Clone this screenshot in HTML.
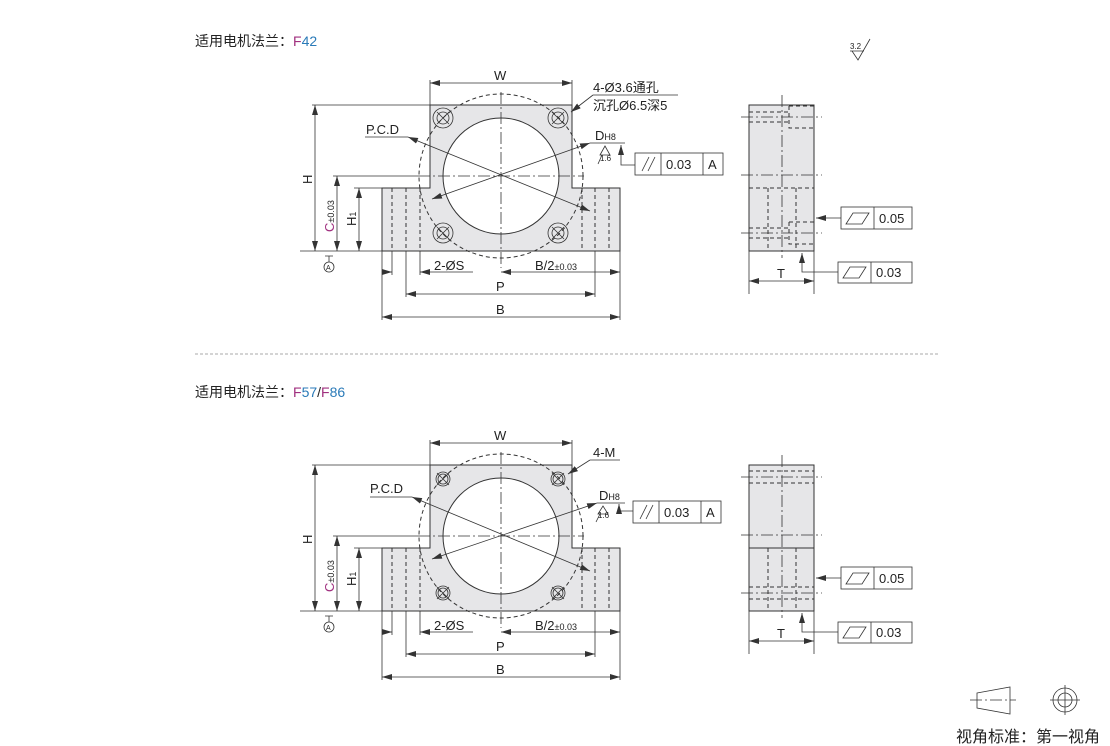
<!DOCTYPE html>
<html><head><meta charset="utf-8"><style>
html,body{margin:0;padding:0;background:#fff;width:1110px;height:746px;overflow:hidden}
svg{display:block}
text{font-family:"Liberation Sans","Noto Sans CJK SC",sans-serif;fill:#222}
.o{stroke:#333;stroke-width:1;fill:none}
.t{stroke:#333;stroke-width:0.8;fill:none}
.d{stroke:#333;stroke-width:1;fill:none;stroke-dasharray:4,3}
.c{stroke:#333;stroke-width:0.8;fill:none;stroke-dasharray:12,3,2,3}
.g{fill:#e6e6e8 !important}
.w{fill:#fff !important}
</style></head><body>
<svg width="1110" height="746" viewBox="0 0 1110 746">
<defs>
<marker id="a" viewBox="0 0 10 6" refX="10" refY="3" markerWidth="10" markerHeight="6" orient="auto-start-reverse" markerUnits="userSpaceOnUse"><path d="M0,0 L10,3 L0,6 z" fill="#333"/></marker>
</defs>

<text x="195" y="46" font-size="14">适用电机法兰：<tspan fill="#a0307f">F</tspan><tspan fill="#2a7ab8">42</tspan></text>
<text x="195" y="397" font-size="14">适用电机法兰：<tspan fill="#a0307f">F</tspan><tspan fill="#2a7ab8">57</tspan>/<tspan fill="#a0307f">F</tspan><tspan fill="#2a7ab8">86</tspan></text>
<line x1="195" y1="354" x2="940" y2="354" stroke="#aaa" stroke-dasharray="3,2"/>

<text x="850" y="49" font-size="8">3.2</text>
<path d="M850,51 L864,51 M852,51 L858,60 L870,39" class="t"/>

<!-- ============ DRAWING 1 ============ -->
<g>
<path d="M430,105 L572,105 L572,188 L620,188 L620,251 L382,251 L382,188 L430,188 Z" class="o g"/>
<circle cx="501" cy="176" r="58" class="o w"/>
<circle cx="501" cy="176" r="82" class="d" stroke-dasharray="10,4"/>
<g class="d">
<line x1="392" y1="188" x2="392" y2="251"/><line x1="406" y1="188" x2="406" y2="251"/><line x1="420" y1="188" x2="420" y2="251"/>
<line x1="582" y1="188" x2="582" y2="251"/><line x1="595" y1="188" x2="595" y2="251"/><line x1="609" y1="188" x2="609" y2="251"/>
</g>
<line x1="501" y1="92" x2="501" y2="268" class="c"/>
<line x1="418" y1="176" x2="584" y2="176" class="c"/>
<g class="t">
<circle cx="443" cy="118" r="10"/><circle cx="443" cy="118" r="6"/><path d="M437,112 L449,124 M449,112 L437,124"/>
<circle cx="558" cy="118" r="10"/><circle cx="558" cy="118" r="6"/><path d="M552,112 L564,124 M564,112 L552,124"/>
<circle cx="443" cy="233" r="10"/><circle cx="443" cy="233" r="6"/><path d="M437,227 L449,239 M449,227 L437,239"/>
<circle cx="558" cy="233" r="10"/><circle cx="558" cy="233" r="6"/><path d="M552,227 L564,239 M564,227 L552,239"/>
</g>
<line x1="365" y1="137" x2="408" y2="137" class="t"/>
<line x1="408" y1="137" x2="590" y2="211" class="t" marker-start="url(#a)" marker-end="url(#a)"/>
<line x1="432" y1="199" x2="590" y2="143" class="t" marker-start="url(#a)" marker-end="url(#a)"/>
<line x1="590" y1="143" x2="625" y2="143" class="t"/>
<text x="366" y="134" font-size="13">P.C.D</text>
<text x="595" y="140" font-size="13">D<tspan font-size="9">H8</tspan></text>
<path d="M600,155 L605,146 L610,155 Z M602,155 L598,164" class="t"/>
<text x="600" y="161" font-size="8">1.6</text>
<path d="M621,145 L621,165 L635,165" class="t" marker-start="url(#a)"/>
<rect x="635" y="153" width="88" height="22" class="t"/>
<line x1="661" y1="153" x2="661" y2="175" class="t"/><line x1="703" y1="153" x2="703" y2="175" class="t"/>
<path d="M642,171 L649,157 M648,171 L655,157" class="t"/>
<text x="666" y="169" font-size="13">0.03</text><text x="708" y="169" font-size="13">A</text>
<text x="593" y="92" font-size="13">4-Ø3.6通孔</text>
<text x="593" y="110" font-size="13">沉孔Ø6.5深5</text>
<line x1="593" y1="95" x2="678" y2="95" class="t"/>
<line x1="593" y1="95" x2="571" y2="112" class="t" marker-end="url(#a)"/>
<line x1="430" y1="80" x2="430" y2="105" class="t"/><line x1="572" y1="80" x2="572" y2="105" class="t"/>
<line x1="430" y1="83" x2="572" y2="83" class="t" marker-start="url(#a)" marker-end="url(#a)"/>
<text x="494" y="80" font-size="13">W</text>
<line x1="312" y1="105" x2="430" y2="105" class="t"/>
<line x1="333" y1="176" x2="418" y2="176" class="t"/>
<line x1="354" y1="188" x2="382" y2="188" class="t"/>
<line x1="300" y1="251" x2="382" y2="251" class="t"/>
<line x1="315" y1="105" x2="315" y2="251" class="t" marker-start="url(#a)" marker-end="url(#a)"/>
<line x1="337" y1="176" x2="337" y2="251" class="t" marker-start="url(#a)" marker-end="url(#a)"/>
<line x1="359" y1="188" x2="359" y2="251" class="t" marker-start="url(#a)" marker-end="url(#a)"/>
<text transform="translate(312,184) rotate(-90)" font-size="13">H</text>
<text transform="translate(334,232) rotate(-90)" font-size="13"><tspan fill="#a0307f">C</tspan><tspan font-size="9">±0.03</tspan></text>
<text transform="translate(356,226) rotate(-90)" font-size="13">H<tspan font-size="9">1</tspan></text>
<path d="M325,256 L333,256 M329,256 L329,262" class="t"/><circle cx="329" cy="267" r="5" class="t"/>
<text x="326" y="270" font-size="7">A</text>
<g class="t">
<line x1="382" y1="251" x2="382" y2="320"/><line x1="620" y1="251" x2="620" y2="320"/>
<line x1="392" y1="251" x2="392" y2="275"/><line x1="406" y1="251" x2="406" y2="297"/>
<line x1="420" y1="251" x2="420" y2="275"/><line x1="595" y1="251" x2="595" y2="297"/>
</g>
<line x1="382" y1="272" x2="392" y2="272" class="t" marker-end="url(#a)"/>
<line x1="420" y1="272" x2="473" y2="272" class="t" marker-start="url(#a)"/>
<line x1="501" y1="272" x2="620" y2="272" class="t" marker-start="url(#a)" marker-end="url(#a)"/>
<text x="434" y="270" font-size="13">2-ØS</text>
<text x="535" y="270" font-size="13">B/2<tspan font-size="9">±0.03</tspan></text>
<line x1="406" y1="294" x2="595" y2="294" class="t" marker-start="url(#a)" marker-end="url(#a)"/>
<text x="496" y="291" font-size="13">P</text>
<line x1="382" y1="317" x2="620" y2="317" class="t" marker-start="url(#a)" marker-end="url(#a)"/>
<text x="496" y="314" font-size="13">B</text>
</g>

<g>
<rect x="749" y="105" width="65" height="146" class="o g"/>
<line x1="782" y1="95" x2="782" y2="258" class="c"/>
<line x1="741" y1="117" x2="822" y2="117" class="c"/>
<line x1="741" y1="175" x2="822" y2="175" class="c"/>
<line x1="741" y1="233" x2="822" y2="233" class="c"/>
<g class="d">
<path d="M749,112 L789,112 M749,122 L789,122 M789,106 L789,128 L814,128 M789,106 L814,106"/>
<path d="M749,188 L814,188 M768,188 L768,251 M796,188 L796,251"/>
<path d="M749,228 L789,228 M749,238 L789,238 M789,222 L789,244 L814,244 M789,222 L814,222"/>
</g>
<line x1="841" y1="218" x2="816" y2="218" class="t" marker-end="url(#a)"/>
<rect x="841" y="207" width="71" height="22" class="t"/><line x1="874" y1="207" x2="874" y2="229" class="t"/>
<path d="M846,224 L853,213 L869,213 L862,224 Z" class="t"/>
<text x="879" y="223" font-size="13">0.05</text>
<path d="M838,272 L802,272 L802,253" class="t" marker-end="url(#a)"/>
<rect x="838" y="262" width="74" height="21" class="t"/><line x1="871" y1="262" x2="871" y2="283" class="t"/>
<path d="M843,278 L850,267 L866,267 L859,278 Z" class="t"/>
<text x="876" y="277" font-size="13">0.03</text>
<line x1="749" y1="251" x2="749" y2="294" class="t"/><line x1="814" y1="251" x2="814" y2="294" class="t"/>
<line x1="749" y1="281" x2="814" y2="281" class="t" marker-start="url(#a)" marker-end="url(#a)"/>
<text x="777" y="278" font-size="13">T</text>
</g>

<!-- ============ DRAWING 2 ============ -->
<g transform="translate(0,360)">
<path d="M430,105 L572,105 L572,188 L620,188 L620,251 L382,251 L382,188 L430,188 Z" class="o g"/>
<circle cx="501" cy="176" r="58" class="o w"/>
<circle cx="501" cy="176" r="82" class="d" stroke-dasharray="10,4"/>
<g class="d">
<line x1="392" y1="188" x2="392" y2="251"/><line x1="406" y1="188" x2="406" y2="251"/><line x1="420" y1="188" x2="420" y2="251"/>
<line x1="582" y1="188" x2="582" y2="251"/><line x1="595" y1="188" x2="595" y2="251"/><line x1="609" y1="188" x2="609" y2="251"/>
</g>
<line x1="501" y1="92" x2="501" y2="268" class="c"/>
<line x1="418" y1="176" x2="584" y2="176" class="c"/>
<g class="t">
<circle cx="443" cy="119" r="7"/><circle cx="443" cy="119" r="5"/><path d="M437,113 L449,125 M449,113 L437,125"/>
<circle cx="558" cy="119" r="7"/><circle cx="558" cy="119" r="5"/><path d="M552,113 L564,125 M564,113 L552,125"/>
<circle cx="443" cy="233" r="7"/><circle cx="443" cy="233" r="5"/><path d="M437,227 L449,239 M449,227 L437,239"/>
<circle cx="558" cy="233" r="7"/><circle cx="558" cy="233" r="5"/><path d="M552,227 L564,239 M564,227 L552,239"/>
</g>
<line x1="370" y1="137" x2="412" y2="137" class="t"/>
<line x1="412" y1="137" x2="590" y2="211" class="t" marker-start="url(#a)" marker-end="url(#a)"/>
<line x1="432" y1="199" x2="597" y2="143" class="t" marker-start="url(#a)" marker-end="url(#a)"/>
<line x1="597" y1="143" x2="625" y2="143" class="t"/>
<text x="370" y="133" font-size="13">P.C.D</text>
<text x="599" y="140" font-size="13">D<tspan font-size="9">H8</tspan></text>
<path d="M598,154 L603,146 L608,154 Z M600,154 L596,162" class="t"/>
<text x="598" y="150" font-size="8" dy="8">1.6</text>
<path d="M619,144 L619,151 L633,151" class="t" marker-start="url(#a)"/>
<rect x="633" y="141" width="88" height="22" class="t"/>
<line x1="659" y1="141" x2="659" y2="163" class="t"/><line x1="701" y1="141" x2="701" y2="163" class="t"/>
<path d="M640,159 L647,145 M646,159 L653,145" class="t"/>
<text x="664" y="157" font-size="13">0.03</text><text x="706" y="157" font-size="13">A</text>
<text x="593" y="97" font-size="13">4-M</text>
<line x1="590" y1="100" x2="620" y2="100" class="t"/>
<line x1="590" y1="100" x2="568" y2="114" class="t" marker-end="url(#a)"/>
<line x1="430" y1="80" x2="430" y2="105" class="t"/><line x1="572" y1="80" x2="572" y2="105" class="t"/>
<line x1="430" y1="83" x2="572" y2="83" class="t" marker-start="url(#a)" marker-end="url(#a)"/>
<text x="494" y="80" font-size="13">W</text>
<line x1="312" y1="105" x2="430" y2="105" class="t"/>
<line x1="333" y1="176" x2="418" y2="176" class="t"/>
<line x1="354" y1="188" x2="382" y2="188" class="t"/>
<line x1="300" y1="251" x2="382" y2="251" class="t"/>
<line x1="315" y1="105" x2="315" y2="251" class="t" marker-start="url(#a)" marker-end="url(#a)"/>
<line x1="337" y1="176" x2="337" y2="251" class="t" marker-start="url(#a)" marker-end="url(#a)"/>
<line x1="359" y1="188" x2="359" y2="251" class="t" marker-start="url(#a)" marker-end="url(#a)"/>
<text transform="translate(312,184) rotate(-90)" font-size="13">H</text>
<text transform="translate(334,232) rotate(-90)" font-size="13"><tspan fill="#a0307f">C</tspan><tspan font-size="9">±0.03</tspan></text>
<text transform="translate(356,226) rotate(-90)" font-size="13">H<tspan font-size="9">1</tspan></text>
<path d="M325,256 L333,256 M329,256 L329,262" class="t"/><circle cx="329" cy="267" r="5" class="t"/>
<text x="326" y="270" font-size="7">A</text>
<g class="t">
<line x1="382" y1="251" x2="382" y2="320"/><line x1="620" y1="251" x2="620" y2="320"/>
<line x1="392" y1="251" x2="392" y2="275"/><line x1="406" y1="251" x2="406" y2="297"/>
<line x1="420" y1="251" x2="420" y2="275"/><line x1="595" y1="251" x2="595" y2="297"/>
</g>
<line x1="382" y1="272" x2="392" y2="272" class="t" marker-end="url(#a)"/>
<line x1="420" y1="272" x2="473" y2="272" class="t" marker-start="url(#a)"/>
<line x1="501" y1="272" x2="620" y2="272" class="t" marker-start="url(#a)" marker-end="url(#a)"/>
<text x="434" y="270" font-size="13">2-ØS</text>
<text x="535" y="270" font-size="13">B/2<tspan font-size="9">±0.03</tspan></text>
<line x1="406" y1="294" x2="595" y2="294" class="t" marker-start="url(#a)" marker-end="url(#a)"/>
<text x="496" y="291" font-size="13">P</text>
<line x1="382" y1="317" x2="620" y2="317" class="t" marker-start="url(#a)" marker-end="url(#a)"/>
<text x="496" y="314" font-size="13">B</text>

<rect x="749" y="105" width="65" height="146" class="o g"/>
<line x1="782" y1="95" x2="782" y2="258" class="c"/>
<line x1="741" y1="117" x2="822" y2="117" class="c"/>
<line x1="741" y1="175" x2="822" y2="175" class="c"/>
<line x1="741" y1="233" x2="822" y2="233" class="c"/>
<line x1="749" y1="188" x2="814" y2="188" class="o"/>
<g class="d" stroke-width="1.5">
<path d="M749,111 L814,111 M749,123 L814,123"/>
<path d="M749,227 L814,227 M749,239 L814,239"/>
</g>
<g class="d"><path d="M768,188 L768,251 M796,188 L796,251"/></g>
<line x1="841" y1="218" x2="816" y2="218" class="t" marker-end="url(#a)"/>
<rect x="841" y="207" width="71" height="22" class="t"/><line x1="874" y1="207" x2="874" y2="229" class="t"/>
<path d="M846,224 L853,213 L869,213 L862,224 Z" class="t"/>
<text x="879" y="223" font-size="13">0.05</text>
<path d="M838,272 L802,272 L802,253" class="t" marker-end="url(#a)"/>
<rect x="838" y="262" width="74" height="21" class="t"/><line x1="871" y1="262" x2="871" y2="283" class="t"/>
<path d="M843,278 L850,267 L866,267 L859,278 Z" class="t"/>
<text x="876" y="277" font-size="13">0.03</text>
<line x1="749" y1="251" x2="749" y2="294" class="t"/><line x1="814" y1="251" x2="814" y2="294" class="t"/>
<line x1="749" y1="281" x2="814" y2="281" class="t" marker-start="url(#a)" marker-end="url(#a)"/>
<text x="777" y="278" font-size="13">T</text>
</g>

<path d="M977,693 L1010,687 L1010,714 L977,708 Z" class="t"/>
<line x1="970" y1="700" x2="1016" y2="700" class="c"/>
<circle cx="1065" cy="700" r="12" class="t"/><circle cx="1065" cy="700" r="7" class="t"/>
<path d="M1050,700 L1080,700 M1065,685 L1065,715" class="t"/>
<text x="956" y="742" font-size="16">视角标准：第一视角</text>
</svg>
</body></html>
